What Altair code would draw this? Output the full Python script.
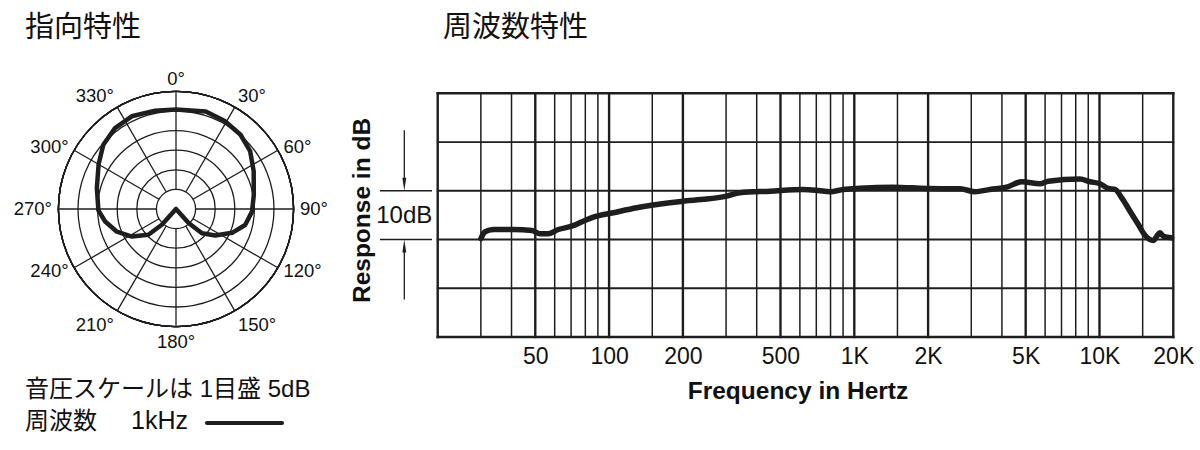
import math
import altair as alt
import pandas as pd

LATIN = "Liberation Sans"
CJK = "Noto Sans CJK JP"
MIXED = "Liberation Sans, Noto Sans CJK JP"
INK = "#1e1e1e"
TXT = "#111111"

# ---------------- data: polar pattern (1 kHz), dB relative, centre = -30 dB ----------------
polar_angle = [0, 17, 29, 41, 52, 64, 80, 92, 103, 113, 124, 133, 138, 180,
               222, 227, 238, 249, 260, 269, 285, 300, 311.5, 323, 334.5, 348, 360]
polar_db = [-4.6, -4.0, -4.35, -4.9, -6.0, -7.95, -9.85, -10.6, -11.9, -14.45, -17.9, -20.95, -25.2, -30,
            -24.6, -20.35, -16.75, -13.85, -11.65, -10.2, -9.1, -7.2, -5.25, -4.15, -3.8, -4.35, -4.6]
ring_db = [-25, -20, -15, -10, -5, 0]
spoke_angle = [0, 30, 60, 90, 120, 150, 180, 210, 240, 270, 300, 330]
label_text = ["0°", "30°", "60°", "90°", "120°", "150°", "180°", "210°", "240°", "270°", "300°", "330°"]

# ---------------- data: frequency response ----------------
freq_hz = [30, 31.2, 33.7, 40.7, 48.4, 52.3, 56.5, 62.1, 70.4, 78.5, 86.2, 104, 129.6, 177.2, 200.8,
           301.8, 342, 453, 620, 713, 796, 902, 1055, 1443, 1974, 2700, 3107, 3577, 4183, 4817,
           5720, 6184, 8327, 9148, 10050, 10865, 11570, 12320, 13320, 14400, 15340, 16580,
           17120, 17650, 18210, 19700]
resp_db = [-9.8, -8.4, -7.95, -7.95, -8.15, -8.83, -8.83, -7.95, -7.27, -6.24, -5.42, -4.52, -3.49, -2.46, -2.14,
           -1.1, -0.41, -0.08, 0.27, 0.06, -0.2, 0.27, 0.53, 0.74, 0.47, 0.41, -0.2, 0.27, 0.74, 1.85,
           1.44, 1.97, 2.4, 1.85, 1.44, 0.47, 0.27, -1.44, -4.19, -6.92, -9.12, -10.2,
           -9.32, -8.62, -9.32, -9.65]
grid_db = [-30, -20, -10, 0, 10, 20]
frame_hz = [20, 20000]
major_hz = [50, 100, 200, 500, 1000, 2000, 5000, 10000]
minor_hz = [30, 40, 60, 70, 80, 90, 150, 300, 400, 600, 700, 800, 900,
            1500, 3000, 4000, 6000, 7000, 8000, 9000, 15000]
tick_hz = [50, 100, 200, 500, 1000, 2000, 5000, 10000, 20000]

# ================= polar chart =================
PW, PH = 352, 440
CX, CY = 176, 209
UNIT = 19.6
pxs = alt.Scale(domain=[-CX / UNIT, (PW - CX) / UNIT], nice=False, zero=False)
pys = alt.Scale(domain=[-(PH - CY) / UNIT, CY / UNIT], nice=False, zero=False)

rings = alt.Chart(pd.DataFrame({"db": ring_db})).mark_arc(
    theta=0, theta2=2 * math.pi, stroke=INK, strokeWidth=1.3, fillOpacity=0
).encode(
    x=alt.XDatum(0, type="quantitative", scale=pxs, axis=None),
    y=alt.YDatum(0, type="quantitative", scale=pys, axis=None),
    radius=alt.Radius("db:Q", stack=False,
                      scale=alt.Scale(type="linear", domain=[-30, 0], range=[0, 6 * UNIT], zero=False)),
)

spokes = alt.Chart(pd.DataFrame({"a": spoke_angle})).transform_calculate(
    sx="sin(datum.a*PI/180)", cy="cos(datum.a*PI/180)"
).transform_calculate(
    x1="1*datum.sx", y1="1*datum.cy", x2="6*datum.sx", y2="6*datum.cy"
).mark_rule(stroke=INK, strokeWidth=1.3).encode(
    x=alt.X("x1:Q", scale=pxs, axis=None),
    y=alt.Y("y1:Q", scale=pys, axis=None),
    x2="x2:Q",
    y2="y2:Q",
)

pdf = pd.DataFrame({"i": list(range(len(polar_angle))), "a": polar_angle, "db": polar_db})
curve_p = alt.Chart(pdf).transform_calculate(
    r="(datum.db + 30) / 5"
).transform_calculate(
    px="datum.r*sin(datum.a*PI/180)", py="datum.r*cos(datum.a*PI/180)"
).mark_line(stroke=INK, strokeWidth=4.5, strokeJoin="round", strokeCap="round").encode(
    x=alt.X("px:Q", scale=pxs, axis=None),
    y=alt.Y("py:Q", scale=pys, axis=None),
    order="i:Q",
)

LABEL_R = 124 / UNIT
groups = {}
for a, t in zip(spoke_angle, label_text):
    s, c = math.sin(math.radians(a)), math.cos(math.radians(a))
    al = "left" if s > 0.1 else ("right" if s < -0.1 else "center")
    bl = "alphabetic" if c > 0.6 else ("top" if c < -0.6 else "middle")
    groups.setdefault((al, bl), []).append((a, t))

label_layers = []
for (al, bl), rows in groups.items():
    ldf = pd.DataFrame({"a": [r[0] for r in rows], "t": [r[1] for r in rows]})
    label_layers.append(
        alt.Chart(ldf).transform_calculate(
            lx=f"{LABEL_R}*sin(datum.a*PI/180)", ly=f"{LABEL_R}*cos(datum.a*PI/180)"
        ).mark_text(align=al, baseline=bl, font=LATIN, fontSize=18.5, color=TXT).encode(
            x=alt.X("lx:Q", scale=pxs, axis=None),
            y=alt.Y("ly:Q", scale=pys, axis=None),
            text="t:N",
        )
    )

one = pd.DataFrame({"k": [0]})
left_title = alt.Chart(one).mark_text(
    text="指向特性", align="left", baseline="alphabetic", font=CJK, fontSize=29, color=TXT
).encode(x=alt.value(25), y=alt.value(37))
note1 = alt.Chart(one).mark_text(
    text="音圧スケールは 1目盛 5dB", align="left", baseline="alphabetic", font=MIXED, fontSize=24, color=TXT
).encode(x=alt.value(25), y=alt.value(396.5))
note2 = alt.Chart(one).mark_text(
    text="周波数", align="left", baseline="alphabetic", font=CJK, fontSize=24, color=TXT
).encode(x=alt.value(25), y=alt.value(429))
note3 = alt.Chart(one).mark_text(
    text="1kHz", align="left", baseline="alphabetic", font=LATIN, fontSize=25, color=TXT
).encode(x=alt.value(131), y=alt.value(429))
legend_line = alt.Chart(one).mark_rule(stroke=INK, strokeWidth=4.2, strokeCap="round").encode(
    x=alt.value(207), x2=alt.value(282), y=alt.value(423)
)

left = alt.layer(rings, spokes, curve_p, *label_layers, left_title, note1, note2, note3, legend_line).properties(
    width=PW, height=PH
)

# ================= frequency response chart =================
FX0 = 437.7
FW, FH = 735.6, 337
xs = alt.Scale(type="log", domain=[20, 20000], nice=False)
ys = alt.Scale(domain=[-30, 39.14], nice=False, zero=False)

x_axis = alt.Axis(
    values=tick_hz,
    labelExpr="datum.value >= 1000 ? (datum.value / 1000) + 'K' : '' + datum.value",
    title="Frequency in Hertz", grid=False, domain=False, ticks=False, tickSize=0,
    labelFont=LATIN, labelFontSize=23, labelColor=TXT, labelPadding=8, labelFlush=False, labelOverlap=False,
    titleFont=LATIN, titleFontSize=24.5, titleFontWeight="bold", titleColor=TXT,
    titleX=359.8, titleY=61, titleBaseline="alphabetic", titleAlign="center",
)
y_axis = alt.Axis(
    title="Response in dB", labels=False, ticks=False, domain=False, grid=False,
    titleFont=LATIN, titleFontSize=24.5, titleFontWeight="bold", titleColor=TXT,
    titleX=-68.4, titleY=210, titleAngle=270, titleBaseline="alphabetic", titleAlign="center",
)


def hrules(vals, w):
    return alt.Chart(pd.DataFrame({"db": vals})).mark_rule(stroke=INK, strokeWidth=w, strokeCap="square").encode(
        x=alt.XDatum(20, type="quantitative", scale=xs, axis=x_axis),
        x2=alt.X2Datum(20000),
        y=alt.Y("db:Q", scale=ys, axis=y_axis),
    )


def vrules(vals, w):
    return alt.Chart(pd.DataFrame({"f": vals})).mark_rule(stroke=INK, strokeWidth=w, strokeCap="square").encode(
        x=alt.X("f:Q", scale=xs, axis=x_axis),
        y=alt.YDatum(-30, type="quantitative", scale=ys, axis=y_axis),
        y2=alt.Y2Datum(20),
    )


h_inner = hrules(grid_db[1:-1], 1.8)
h_frame = hrules([grid_db[0], grid_db[-1]], 2.4)
v_minor = vrules(minor_hz, 1.5)
v_major = vrules(major_hz, 2.4)
v_frame = vrules(frame_hz, 2.4)

fdf = pd.DataFrame({"f": freq_hz, "db": resp_db})
curve_f = alt.Chart(fdf).mark_line(
    stroke=INK, strokeWidth=5.5, strokeCap="round", strokeJoin="round", interpolate="monotone"
).encode(
    x=alt.X("f:Q", scale=xs, axis=x_axis),
    y=alt.Y("db:Q", scale=ys, axis=y_axis),
)

# 10 dB scale annotation left of the grid
AX = 404.3 - FX0
ann_lines = alt.Chart(pd.DataFrame({"db": [0, -10]})).mark_rule(stroke=INK, strokeWidth=1.3).encode(
    x=alt.value(380 - FX0), x2=alt.value(432 - FX0), y=alt.Y("db:Q", scale=ys, axis=y_axis)
)
shaft_up = alt.Chart(one).mark_rule(stroke=INK, strokeWidth=1.3).encode(
    x=alt.value(AX), y=alt.YDatum(12.4, type="quantitative", scale=ys, axis=y_axis), y2=alt.Y2Datum(1.5)
)
shaft_dn = alt.Chart(one).mark_rule(stroke=INK, strokeWidth=1.3).encode(
    x=alt.value(AX), y=alt.YDatum(-11.5, type="quantitative", scale=ys, axis=y_axis), y2=alt.Y2Datum(-22.3)
)
head_dn = alt.Chart(one).mark_point(
    shape="M -0.3 -1 L 0.3 -1 L 0 1 Z", size=169, filled=True, color=INK, strokeWidth=0, opacity=1
).encode(x=alt.value(AX), y=alt.YDatum(1.33, type="quantitative", scale=ys, axis=y_axis))
head_up = alt.Chart(one).mark_point(
    shape="M -0.3 1 L 0.3 1 L 0 -1 Z", size=169, filled=True, color=INK, strokeWidth=0, opacity=1
).encode(x=alt.value(AX), y=alt.YDatum(-11.33, type="quantitative", scale=ys, axis=y_axis))
ann_text = alt.Chart(one).mark_text(
    text="10dB", align="center", baseline="middle", font=LATIN, fontSize=24, color=TXT, dy=1
).encode(x=alt.value(AX), y=alt.YDatum(-5, type="quantitative", scale=ys, axis=y_axis))

right_title = alt.Chart(one).mark_text(
    text="周波数特性", align="left", baseline="alphabetic", font=CJK, fontSize=29, color=TXT
).encode(x=alt.value(443 - FX0), y=alt.value(37))

right = alt.layer(
    h_inner, v_minor, v_major, v_frame, h_frame, curve_f,
    ann_lines, shaft_up, shaft_dn, head_dn, head_up, ann_text, right_title
).properties(width=FW, height=FH)

chart = alt.hconcat(left, right, spacing=FX0 - PW, bounds="flush", padding=0).configure_view(strokeWidth=0)

chart.save("out.html", embed_options={"renderer": "svg", "actions": False})
